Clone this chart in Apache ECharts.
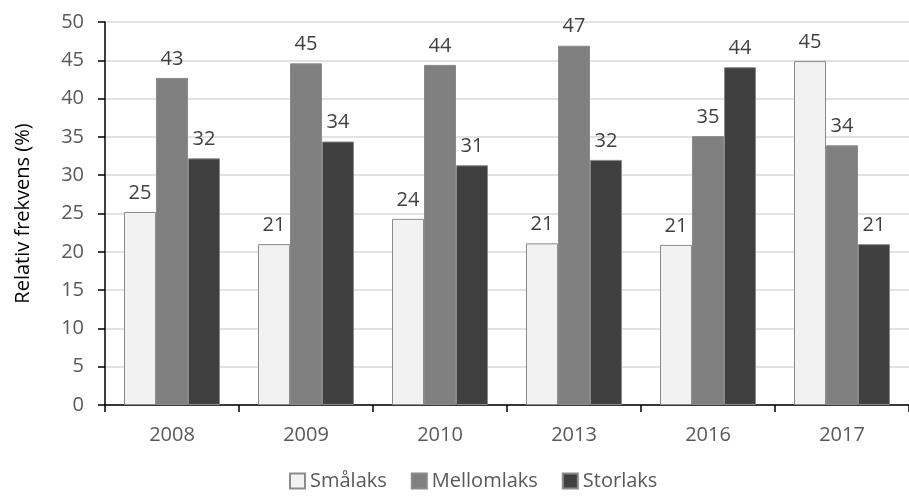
<!DOCTYPE html>
<html>
<head>
<meta charset="utf-8">
<script src="https://cdn.jsdelivr.net/npm/echarts@6/dist/echarts.min.js"></script>
<style>
  html, body { margin: 0; padding: 0; background: #fff; }
  #chart { width: 909px; height: 497px; }
</style>
</head>
<body>
<div id="chart"></div>
<script>
const years = ['2008', '2009', '2010', '2013', '2016', '2017'];
const smalaks = [25.2, 21.0, 24.3, 21.1, 20.9, 44.9];
const mellomlaks = [42.7, 44.6, 44.4, 46.9, 35.1, 33.9];
const storlaks = [32.2, 34.4, 31.3, 32.0, 44.1, 21.0];
const yTicks = [0, 5, 10, 15, 20, 25, 30, 35, 40, 45, 50];

const font = '"Open Sans", sans-serif';

const chart = echarts.init(document.getElementById('chart'));

function barSeries(name, data, color) {
  return {
    name: name,
    type: 'bar',
    data: data,
    barWidth: 32,
    barGap: '0%',
    itemStyle: { color: color, borderColor: '#8a8a8a', borderWidth: 1 },
    label: {
      show: true,
      position: 'top',
      distance: 9,
      color: '#404040',
      fontSize: 20,
      fontFamily: font,
      formatter: p => Math.round(p.value)
    }
  };
}

const option = {
  animation: false,
  textStyle: { fontFamily: font },
  grid: { left: 105, top: 22, width: 810, height: 383, containLabel: false },
  legend: {
    bottom: 1,
    left: 284,
    itemWidth: 15,
    itemHeight: 15,
    itemGap: 24,
    icon: 'rect',
    textStyle: { fontSize: 20, color: '#595959', fontFamily: font },
    data: ['Smålaks', 'Mellomlaks', 'Storlaks']
  },
  xAxis: {
    type: 'category',
    data: years,
    axisLine: { lineStyle: { color: '#000', width: 1.5 } },
    axisTick: { show: true, length: 7, lineStyle: { color: '#000', width: 1.5 } },
    axisLabel: { fontSize: 20, color: '#595959', margin: 20, fontFamily: font }
  },
  yAxis: {
    type: 'value',
    min: yTicks[0],
    max: yTicks[yTicks.length - 1],
    interval: 5,
    name: 'Relativ frekvens (%)',
    nameLocation: 'middle',
    nameGap: 72,
    nameRotate: 90,
    nameTextStyle: { fontSize: 20, color: '#000', fontFamily: font },
    axisLine: { show: true, lineStyle: { color: '#000', width: 1.5 } },
    axisTick: { show: true, length: 7, lineStyle: { color: '#000', width: 1.5 } },
    axisLabel: { fontSize: 20, color: '#595959', margin: 21, fontFamily: font },
    splitLine: { lineStyle: { color: '#d9d9d9', width: 1.5 } }
  },
  series: [
    barSeries('Smålaks', smalaks, '#f2f2f2'),
    barSeries('Mellomlaks', mellomlaks, '#808080'),
    barSeries('Storlaks', storlaks, '#404040')
  ]
};

chart.setOption(option);
</script>
</body>
</html>
